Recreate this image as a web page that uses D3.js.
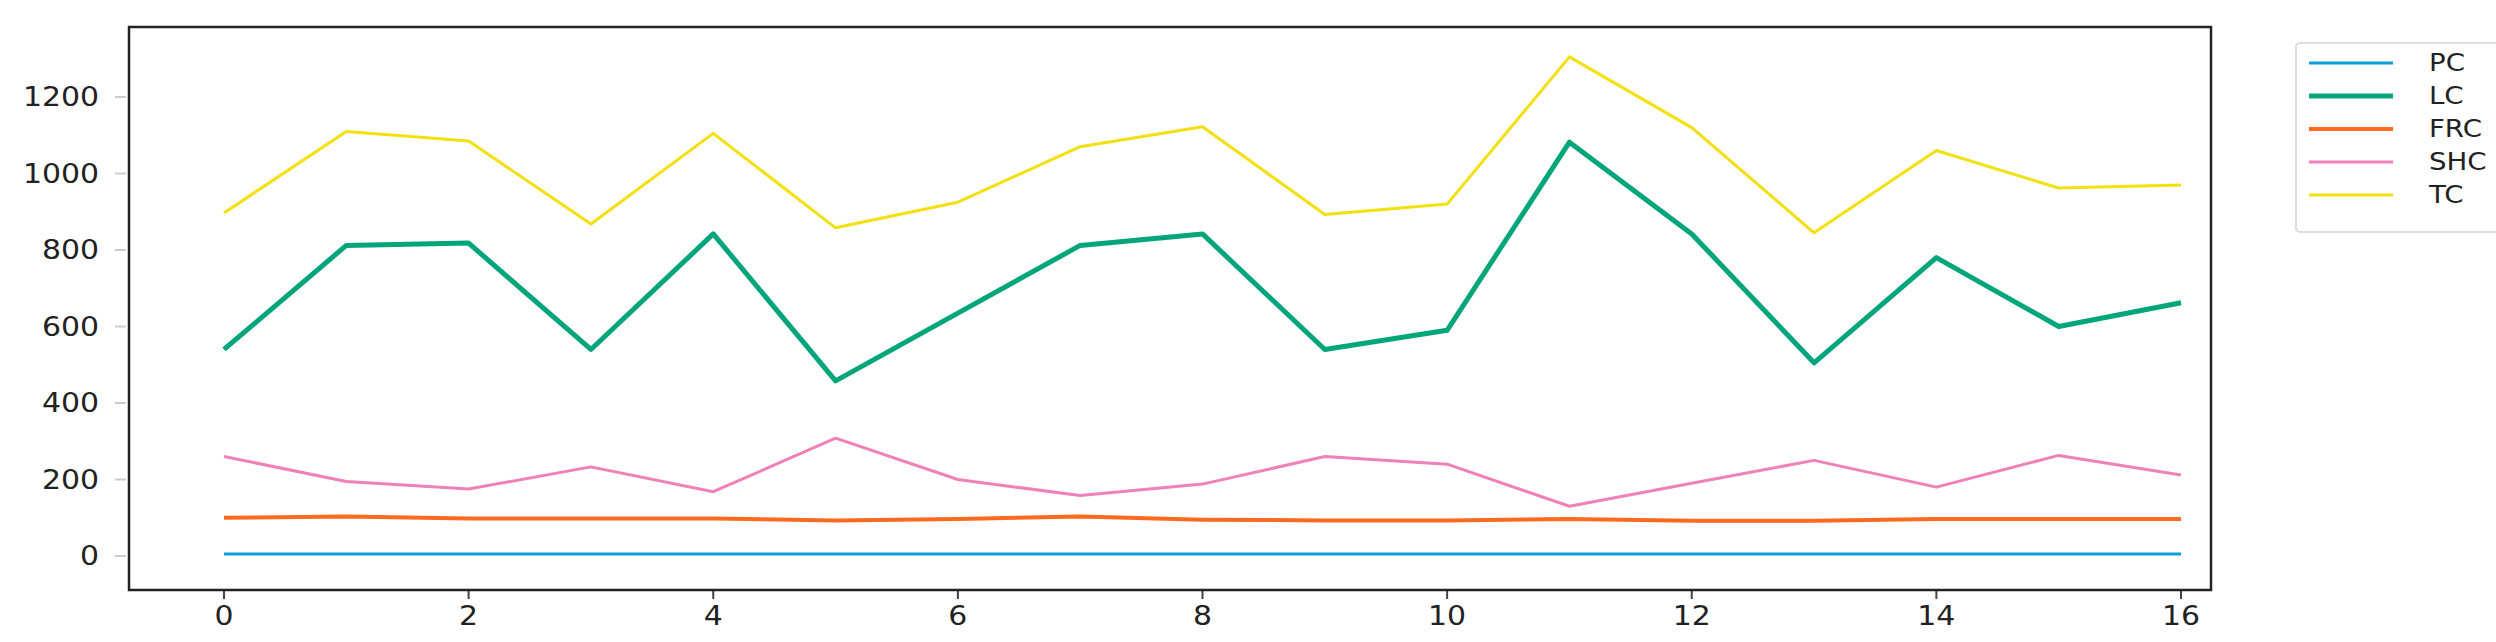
<!DOCTYPE html>
<html><head><meta charset="utf-8">
<script src="https://cdn.jsdelivr.net/npm/d3@7"></script>
<style>body{margin:0;background:#fff}text{font-family:"DejaVu Sans",sans-serif}</style>
</head><body><svg id="c" width="2496" height="642"></svg>
<script>
const idx = d3.range(17);
const PC = [5,5,5,5,5,5,5,5,5,5,5,5,5,5,5,5,5];
const LC = [540,812,818,540,842,458,635,812,842,540,590,1082,842,505,780,600,662];
const FRC = [100,103,98,98,98,93,97,103,95,93,93,97,92,92,97,97,97];
const SHC = [260,195,175,233,168,308,200,158,188,260,240,130,190,250,180,263,212];
const TC = [897,1110,1085,868,1105,858,925,1070,1122,893,920,1305,1120,845,1060,962,970];
const series = [
  {name:'PC', vals:PC, color:'#0a9fd8', w:3},
  {name:'LC', vals:LC, color:'#00a57a', w:5},
  {name:'FRC', vals:FRC, color:'#fb6a1e', w:4},
  {name:'SHC', vals:SHC, color:'#f080b8', w:3},
  {name:'TC', vals:TC, color:'#f2e010', w:3}
];
const yTicks = [0,200,400,600,800,1000,1200];
const xTicks = [0,2,4,6,8,10,12,14,16];

const svg = d3.select('#c');
const L = 129, R = 2211, T = 27, B = 590;
const x = d3.scaleLinear().domain([0,16]).range([224,2181]);
const y = d3.scaleLinear().domain([0,1200]).range([556,97]);
const sx = (px)=>`translate(${px},0) scale(1.15,1) translate(${-px},0)`;

// y ticks (light) and labels
yTicks.forEach(v=>{
  svg.append('line').attr('x1',L-14).attr('x2',L-3).attr('y1',y(v)).attr('y2',y(v))
    .attr('stroke','#ccc').attr('stroke-width',2);
  svg.append('text').attr('x',L-30).attr('y',y(v)).attr('dy','0.35em')
    .attr('text-anchor','end').attr('font-size',26).attr('fill','#222')
    .attr('transform',sx(L-30)).text(v);
});
xTicks.forEach(v=>{
  svg.append('line').attr('x1',x(v)).attr('x2',x(v)).attr('y1',B+1).attr('y2',B+9)
    .attr('stroke','#444').attr('stroke-width',2);
  svg.append('text').attr('x',x(v)).attr('y',B+35).attr('text-anchor','middle')
    .attr('font-size',26).attr('fill','#222')
    .attr('transform',sx(x(v))).text(v);
});

const line = d3.line().x((d,i)=>x(i)).y(d=>y(d));
series.forEach(s=>{
  svg.append('path').datum(s.vals).attr('d',line).attr('fill','none')
    .attr('stroke',s.color).attr('stroke-width',s.w).attr('stroke-linejoin','round');
});

svg.append('rect').attr('x',L).attr('y',T).attr('width',R-L).attr('height',B-T)
  .attr('fill','none').attr('stroke','#222').attr('stroke-width',2.5);

// legend
svg.append('rect').attr('x',2296).attr('y',43).attr('width',240).attr('height',189)
  .attr('rx',4).attr('fill','#fff').attr('stroke','#ddd').attr('stroke-width',2);
series.forEach((s,i)=>{
  const yy = 63 + i*33;
  svg.append('line').attr('x1',2309).attr('x2',2393).attr('y1',yy).attr('y2',yy)
    .attr('stroke',s.color).attr('stroke-width',s.w);
  svg.append('text').attr('x',2360).attr('y',yy).attr('dx',0).attr('dy','0.35em').attr('font-size',24)
    .attr('fill','#222').attr('transform',sx(2360)).attr('x',2420).text(s.name);
});
</script></body></html>
